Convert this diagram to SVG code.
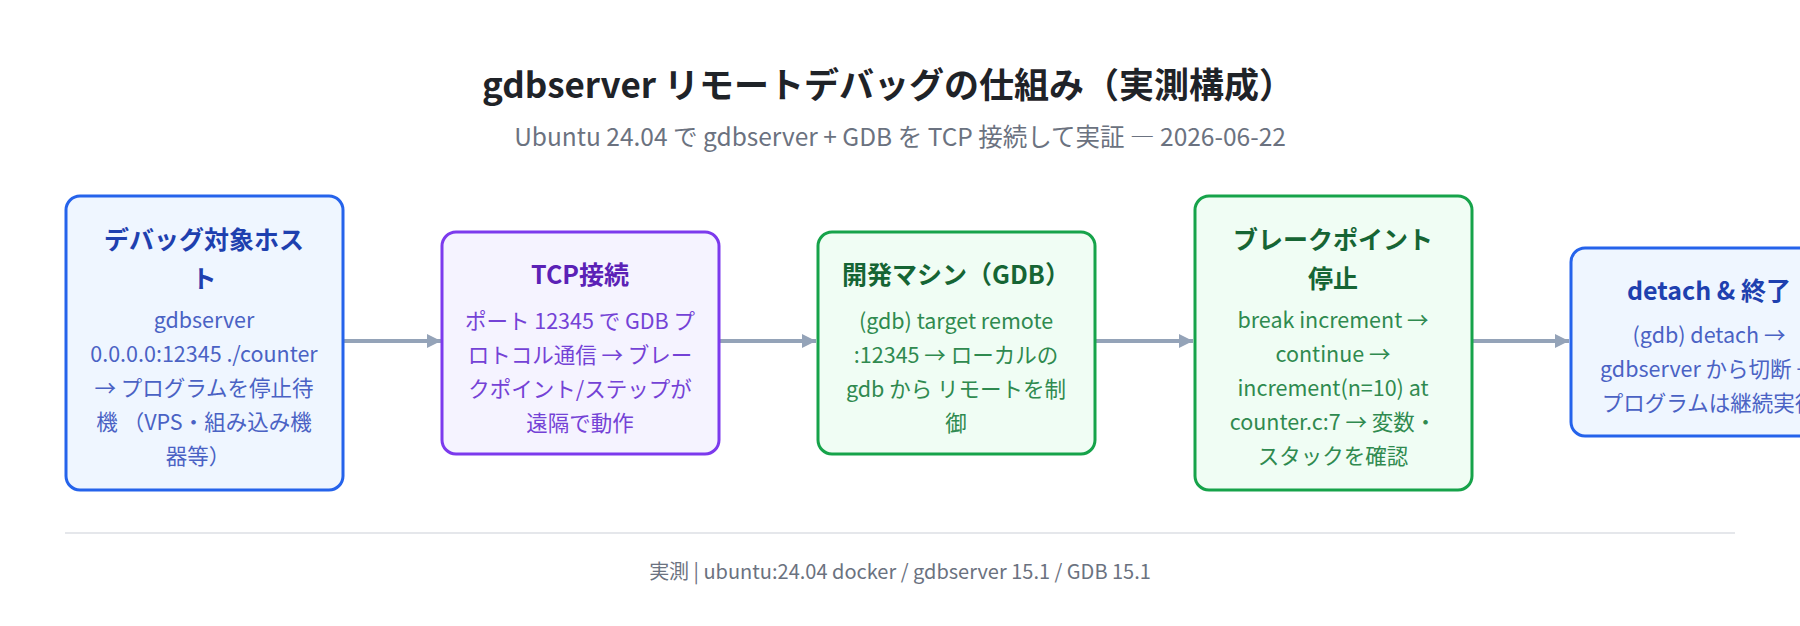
<svg xmlns="http://www.w3.org/2000/svg" width="1800" height="626" viewBox="0 0 1800 626">
<defs>
<style>
text{font-family:"Noto Sans CJK JP","Noto Sans",sans-serif;text-anchor:middle}
.t{font-size:35px;font-weight:700;fill:#1f2328}
.s{font-size:24.5px;fill:#6b7280}
.f{font-size:20px;fill:#6b7280}
.h{font-size:25px;font-weight:700}
.b{font-size:21.5px}
.blue rect{fill:#eff6ff;stroke:#2563eb;stroke-width:3}
.blue .h{fill:#1e40af}.blue .b{fill:#4a62c4}
.purple rect{fill:#f5f3ff;stroke:#7c3aed;stroke-width:3}
.purple .h{fill:#5b21b6}.purple .b{fill:#7442d6}
.green rect{fill:#f0fdf4;stroke:#16a34a;stroke-width:3}
.green .h{fill:#166534}.green .b{fill:#2f8a4f}
.c line{stroke:#94a3b8;stroke-width:4}
</style>
<marker id="ah" viewBox="0 0 10 10" refX="10" refY="5" markerWidth="3.5" markerHeight="5" markerUnits="strokeWidth" orient="auto"><path d="M0,0L10,5L0,10z" fill="#94a3b8"/></marker>
</defs>
<rect width="1800" height="626" fill="#fff"/>
<text class="t" x="888" y="98">gdbserver リモートデバッグの仕組み（実測構成）</text>
<text class="s" x="900" y="146">Ubuntu 24.04 で gdbserver + GDB を TCP 接続して実証 ― 2026-06-22</text>
<g class="c">
<line x1="344" y1="341" x2="441" y2="341" marker-end="url(#ah)"/>
<line x1="720" y1="341" x2="816" y2="341" marker-end="url(#ah)"/>
<line x1="1095" y1="341" x2="1193" y2="341" marker-end="url(#ah)"/>
<line x1="1472" y1="341" x2="1569" y2="341" marker-end="url(#ah)"/>
</g>
<g id="n1" class="blue">
<rect x="66" y="196" width="277" height="294" rx="14"/>
<text class="h" x="204" y="249">デバッグ対象ホス</text>
<text class="h" x="204" y="288">ト</text>
<text class="b" x="204" y="328">gdbserver</text>
<text class="b" x="204" y="362">0.0.0.0:12345 ./counter</text>
<text class="b" x="204" y="396">→ プログラムを停止待</text>
<text class="b" x="204" y="430">機 （VPS・組み込み機</text>
<text class="b" x="198" y="464">器等）</text>
</g>
<g id="n2" class="purple">
<rect x="442" y="232" width="277" height="222" rx="14"/>
<text class="h" x="580" y="284">TCP接続</text>
<text class="b" x="580" y="329">ポート 12345 で GDB プ</text>
<text class="b" x="580" y="363">ロトコル通信 → ブレー</text>
<text class="b" x="580" y="397">クポイント/ステップが</text>
<text class="b" x="580" y="431">遠隔で動作</text>
</g>
<g id="n3" class="green">
<rect x="818" y="232" width="277" height="222" rx="14"/>
<text class="h" x="956" y="284">開発マシン（GDB）</text>
<text class="b" x="956" y="329">(gdb) target remote</text>
<text class="b" x="956" y="363">:12345 → ローカルの</text>
<text class="b" x="956" y="397">gdb から リモートを制</text>
<text class="b" x="956" y="431">御</text>
</g>
<g id="n4" class="green">
<rect x="1195" y="196" width="277" height="294" rx="14"/>
<text class="h" x="1333" y="249">ブレークポイント</text>
<text class="h" x="1333" y="288">停止</text>
<text class="b" x="1333" y="328">break increment →</text>
<text class="b" x="1333" y="362">continue →</text>
<text class="b" x="1333" y="396">increment(n=10) at</text>
<text class="b" x="1333" y="430">counter.c:7 → 変数・</text>
<text class="b" x="1333" y="464">スタックを確認</text>
</g>
<g id="n5" class="blue">
<rect x="1571" y="248" width="277" height="188" rx="14"/>
<text class="h" x="1709" y="300">detach &amp; 終了</text>
<text class="b" x="1709" y="343">(gdb) detach →</text>
<text class="b" x="1709" y="377">gdbserver から切断 →</text>
<text class="b" x="1709" y="411">プログラムは継続実行</text>
</g>
<line x1="65" y1="533" x2="1735" y2="533" stroke="#e5e7eb" stroke-width="2"/>
<text class="f" x="900" y="579">実測 | ubuntu:24.04 docker / gdbserver 15.1 / GDB 15.1</text>
</svg>
